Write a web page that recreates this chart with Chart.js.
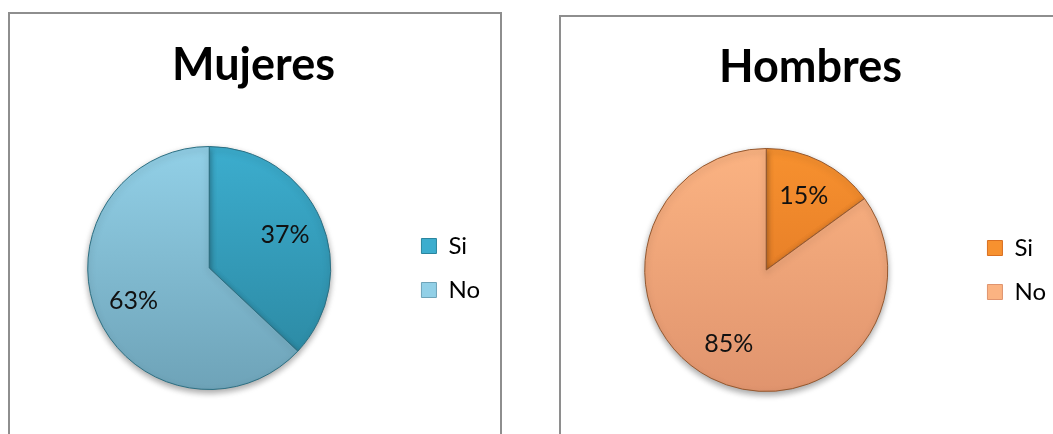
<!DOCTYPE html>
<html>
<head>
<meta charset="utf-8">
<script src="https://cdn.jsdelivr.net/npm/chart.js@4.4.1/dist/chart.umd.min.js"></script>
<style>
  html, body { margin: 0; padding: 0; background: #fff; overflow: hidden; }
  body { width: 1053px; height: 434px; position: relative; font-family: Lato, sans-serif; }
  .panel { position: absolute; border: 2px solid #8e8e8e; border-bottom: none; box-sizing: border-box; }
  #panel1 { left: 8px; top: 12px; width: 494px; height: 440px; }
  #panel2 { left: 559px; top: 15px; width: 520px; height: 440px; }
  canvas { position: absolute; display: block; }
  #chart1 { left: 10px; top: 15px; }
  #chart2 { left: 562px; top: 17px; }
</style>
</head>
<body>
<div class="panel" id="panel1"></div>
<div class="panel" id="panel2"></div>
<canvas id="chart1" width="490" height="419"></canvas>
<canvas id="chart2" width="502" height="417"></canvas>

<script>
const labels = ["Si", "No"];
const mujeres = [37, 63];
const hombres = [15, 85];
const titles = ["Mujeres", "Hombres"];

// top / bottom colours for the bevel-ish gradient
const blueTop = ["#3cadce", "#92d0e7"];
const blueBottom = ["#2a859e", "#6ea3b8"];
const orangeTop = ["#f7912f", "#fbb382"];
const orangeBottom = ["#d96f21", "#e0946e"];

function gradientFill(tops, bottoms) {
  return ctx => {
    const chart = ctx.chart;
    const area = chart.chartArea;
    if (!area) return tops[ctx.dataIndex];
    const g = chart.ctx.createLinearGradient(0, area.top, 0, area.bottom);
    g.addColorStop(0, tops[ctx.dataIndex]);
    g.addColorStop(1, bottoms[ctx.dataIndex]);
    return g;
  };
}

// percentage labels inside the slices
const sliceLabels = {
  id: "sliceLabels",
  afterDatasetsDraw(chart) {
    const ctx = chart.ctx;
    const meta = chart.getDatasetMeta(0);
    const data = chart.data.datasets[0].data;
    ctx.save();
    ctx.font = "25px Lato";
    ctx.fillStyle = "#111";
    ctx.textAlign = "center";
    ctx.textBaseline = "middle";
    meta.data.forEach((arc, i) => {
      const p = arc.getProps(["x", "y", "startAngle", "endAngle", "outerRadius"]);
      const mid = (p.startAngle + p.endAngle) / 2;
      const r = p.outerRadius * 0.68;
      ctx.fillText(data[i] + "%", p.x + Math.cos(mid) * r, p.y + Math.sin(mid) * r);
    });
    ctx.restore();
  }
};

// soft drop shadow under the pie
const pieShadow = {
  id: "pieShadow",
  beforeDatasetsDraw(chart) {
    const ctx = chart.ctx;
    ctx.save();
    ctx.shadowColor = "rgba(0,0,0,0.35)";
    ctx.shadowBlur = 6;
    ctx.shadowOffsetY = 3;
  },
  afterDatasetsDraw(chart) {
    chart.ctx.restore();
  }
};

function makePie(id, title, values, tops, bottoms, border, padding) {
  return new Chart(document.getElementById(id), {
    type: "pie",
    data: {
      labels,
      datasets: [{
        data: values,
        backgroundColor: gradientFill(tops, bottoms),
        borderColor: border,
        borderWidth: 1
      }]
    },
    options: {
      responsive: false,
      animation: false,
      layout: { padding },
      plugins: {
        title: {
          display: true,
          text: title,
          color: "#000",
          font: { family: "Lato", size: 45, weight: "bold", lineHeight: 1.2 },
          padding: { top: 23.5, bottom: 53.5 }
        },
        legend: {
          position: "right",
          fullSize: false,
          labels: {
            boxWidth: 15,
            boxHeight: 15,
            padding: 20,
            color: "#000",
            font: { family: "Lato", size: 24 },
            generateLabels(chart) {
              return chart.data.labels.map((l, i) => ({
                text: l,
                fillStyle: tops[i],
                strokeStyle: bottoms[i],
                lineWidth: 1,
                index: i,
                datasetIndex: 0
              }));
            }
          }
        },
        tooltip: { enabled: false }
      }
    },
    plugins: [pieShadow, sliceLabels]
  });
}

makePie("chart1", titles[0], mujeres, blueTop, blueBottom, "#2c6f82",
  { left: 7, right: 10, top: 0, bottom: 44 });
makePie("chart2", titles[1], hombres, orangeTop, orangeBottom, "#94582f",
  { left: 3, right: 8, top: 0, bottom: 42 });
</script>
</body>
</html>
